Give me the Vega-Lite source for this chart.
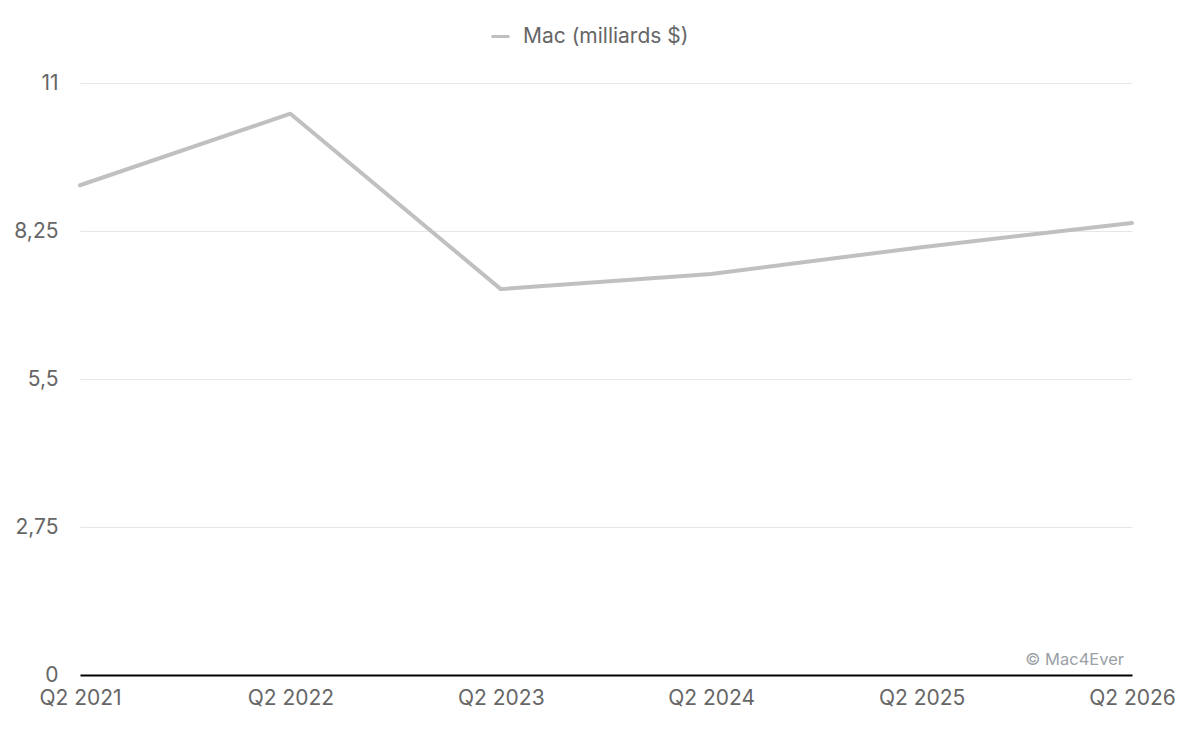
{
  "$schema": "https://vega.github.io/schema/vega-lite/v6.json",
  "width": 1052,
  "height": 592,
  "autosize": "none",
  "padding": {"left": 80, "top": 83, "right": 68, "bottom": 59},
  "background": "white",
  "config": {
    "view": {"stroke": null},
    "font": "Inter"
  },
  "data": {
    "values": [
      {"trimestre": "Q2 2021", "valeur": 9.10, "serie": "Mac (milliards $)"},
      {"trimestre": "Q2 2022", "valeur": 10.43, "serie": "Mac (milliards $)"},
      {"trimestre": "Q2 2023", "valeur": 7.17, "serie": "Mac (milliards $)"},
      {"trimestre": "Q2 2024", "valeur": 7.45, "serie": "Mac (milliards $)"},
      {"trimestre": "Q2 2025", "valeur": 7.95, "serie": "Mac (milliards $)"},
      {"trimestre": "Q2 2026", "valeur": 8.40, "serie": "Mac (milliards $)"}
    ]
  },
  "layer": [
    {
      "mark": {"type": "line", "strokeWidth": 4, "strokeCap": "round", "strokeJoin": "round"},
      "encoding": {
        "x": {
          "field": "trimestre",
          "type": "ordinal",
          "sort": null,
          "scale": {"type": "point", "padding": 0},
          "axis": {
            "title": null,
            "labelAngle": 0,
            "labelFontSize": 21,
            "labelColor": "#666666",
            "labelPadding": 12,
            "ticks": false,
            "domainColor": "#000000",
            "domainWidth": 2,
            "grid": false
          }
        },
        "y": {
          "field": "valeur",
          "type": "quantitative",
          "scale": {"domain": [0, 11], "nice": false},
          "axis": {
            "title": null,
            "values": [0, 2.75, 5.5, 8.25, 11],
            "labelExpr": "replace(format(datum.value, ''), '.', ',')",
            "labelFontSize": 21,
            "labelColor": "#666666",
            "labelPadding": 22,
            "ticks": false,
            "domain": false,
            "grid": true,
            "gridColor": "#e6e6e6",
            "gridWidth": 1
          }
        },
        "color": {
          "field": "serie",
          "type": "nominal",
          "scale": {"range": ["#c0c0c0"]},
          "legend": {
            "title": null,
            "orient": "none",
            "legendX": 410,
            "legendY": -57,
            "symbolType": "stroke",
            "symbolSize": 324,
            "symbolStrokeWidth": 3,
            "labelFontSize": 21,
            "labelLimit": 500,
            "labelColor": "#666666",
            "labelOffset": 12
          }
        }
      }
    },
    {
      "data": {"values": [{"trimestre": "Q2 2026", "valeur": 0, "texte": "© Mac4Ever"}]},
      "mark": {"type": "text", "align": "right", "baseline": "bottom", "dx": -8, "dy": -7, "fontSize": 16.5, "color": "#9aa0a6"},
      "encoding": {
        "x": {"field": "trimestre", "type": "ordinal"},
        "y": {"field": "valeur", "type": "quantitative"},
        "text": {"field": "texte"}
      }
    }
  ]
}
